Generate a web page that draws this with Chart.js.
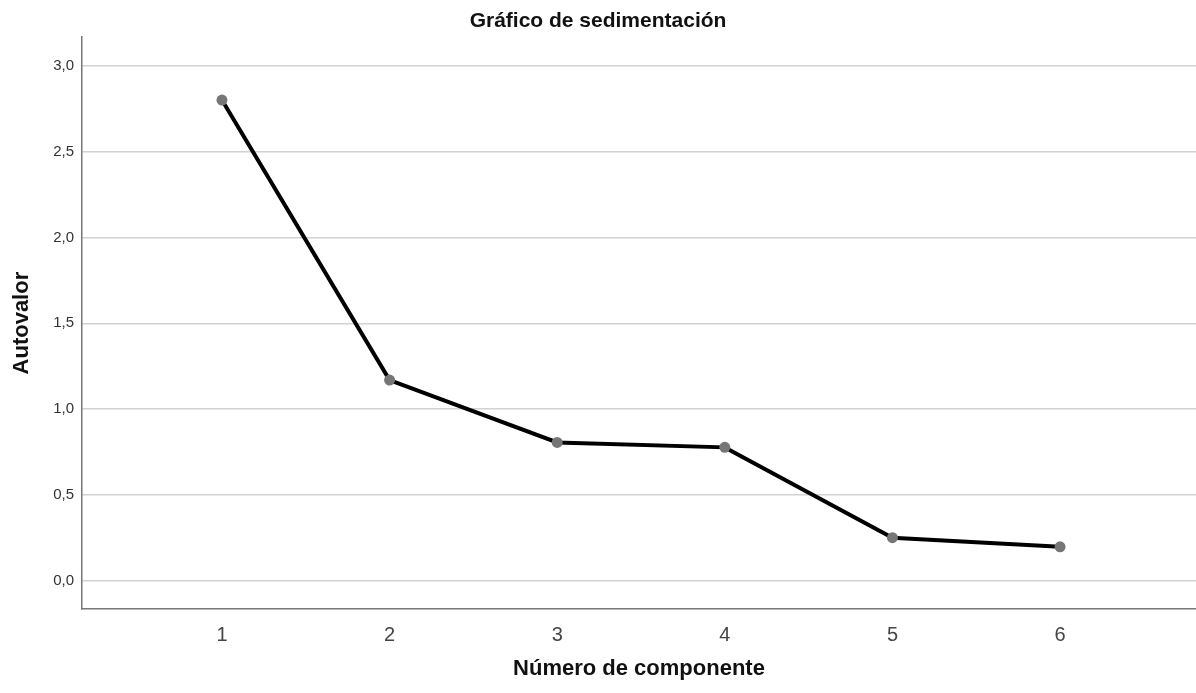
<!DOCTYPE html>
<html>
<head>
<meta charset="utf-8">
<script src="https://cdn.jsdelivr.net/npm/chart.js@4"></script>
<style>
  html, body { margin: 0; padding: 0; background: #fff; }
  #wrap { width: 1196px; height: 693px; }
</style>
</head>
<body>
<div id="wrap"><canvas id="screeChart" width="1196" height="693"></canvas></div>
<script>
// datos del gráfico de sedimentación
const components = [1, 2, 3, 4, 5, 6];
const eigenvalues = [2.80, 1.17, 0.807, 0.778, 0.252, 0.199];
const yTickValues = [0, 0.5, 1.0, 1.5, 2.0, 2.5, 3.0];
const yTickLabels = ['0,0', '0,5', '1,0', '1,5', '2,0', '2,5', '3,0'];

const fontFamily = '"Liberation Sans", Arial, sans-serif';

const ctx = document.getElementById('screeChart').getContext('2d');

new Chart(ctx, {
    type: 'line',
    data: {
        datasets: [{
            label: 'Autovalor',
            data: components.map((c, i) => ({ x: c, y: eigenvalues[i] })),
            borderColor: '#000',
            borderWidth: 4,
            pointRadius: 5.5,
            pointHoverRadius: 5.5,
            pointBackgroundColor: '#767676',
            pointBorderWidth: 0,
            tension: 0,
            fill: false
        }]
    },
    options: {
        responsive: false,
        animation: false,
        layout: { autoPadding: false, padding: 0 },
        scales: {
            x: {
                type: 'linear',
                min: 0.165,
                max: 6.811,
                afterBuildTicks: axis => {
                    axis.ticks = components.map(v => ({ value: v }));
                },
                afterFit: axis => {
                    axis.height = 84;
                    axis.paddingLeft = 0;
                    axis.paddingRight = 0;
                },
                grid: { display: false, drawTicks: false },
                border: { display: true, color: '#777', width: 1.5 },
                ticks: {
                    padding: 14,
                    color: '#444',
                    font: { family: fontFamily, size: 20 },
                    callback: v => String(v)
                },
                title: {
                    display: true,
                    text: 'Número de componente',
                    color: '#111',
                    font: { family: fontFamily, size: 22, weight: 'bold' },
                    padding: { top: 0, bottom: 11 }
                }
            },
            y: {
                min: -0.163,
                max: 3.166,
                afterBuildTicks: axis => {
                    axis.ticks = yTickValues.map(v => ({ value: v }));
                },
                afterFit: axis => {
                    axis.width = 82;
                    axis.paddingTop = 0;
                    axis.paddingBottom = 0;
                },
                grid: { color: '#d2d2d2', lineWidth: 1.5, drawTicks: false },
                border: { display: true, color: '#777', width: 1.5 },
                ticks: {
                    padding: 8,
                    color: '#333',
                    font: { family: fontFamily, size: 15 },
                    callback: v => yTickLabels[yTickValues.indexOf(v)]
                },
                title: {
                    display: true,
                    text: 'Autovalor',
                    color: '#111',
                    font: { family: fontFamily, size: 22, weight: 'bold' },
                    padding: { top: 9, bottom: 0 }
                }
            }
        },
        plugins: {
            legend: { display: false },
            tooltip: { enabled: false },
            title: {
                display: true,
                text: 'Gráfico de sedimentación',
                color: '#111',
                font: { family: fontFamily, size: 21, weight: 'bold' },
                padding: { top: 9, bottom: 3 }
            }
        }
    }
});
</script>
</body>
</html>
